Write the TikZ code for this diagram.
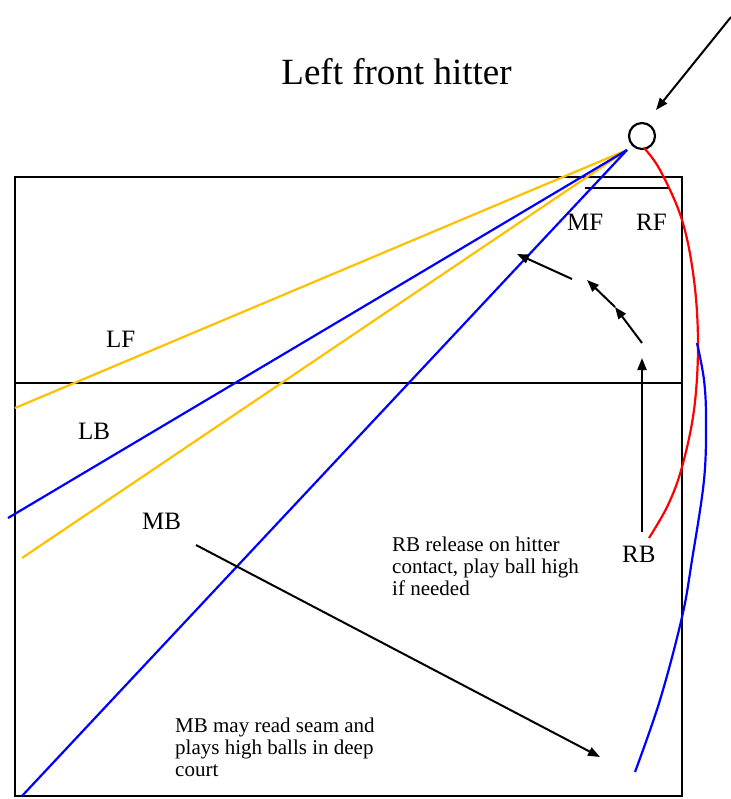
\documentclass[tikz,border=0pt]{standalone}
\usepackage{fontspec}
\setmainfont{Liberation Serif}
\usetikzlibrary{arrows.meta}
\definecolor{gold}{HTML}{FFC000}
\definecolor{pblue}{HTML}{0000FF}
\definecolor{pred}{HTML}{FF0000}
\begin{document}
\begin{tikzpicture}[x=1pt,y=-1pt,
  court/.style={draw=black, line width=2.2pt},
  zone/.style={line width=2.2pt},
  move/.style={draw=black, line width=2pt, -{Triangle[length=12pt,width=9pt]}},
  lbl/.style={font=\fontsize{25}{30}\selectfont, inner sep=0pt, anchor=base west},
  note/.style={font=\fontsize{21}{22}\selectfont, inner sep=0pt, anchor=north west, align=left},
]
\useasboundingbox (0,0) rectangle (730,799);
% court
\draw[court] (15,177) rectangle (682,796);
\coordinate (netL) at (15,383);
\coordinate (netR) at (682,383);
\draw[court] (netL) -- (netR);
\coordinate (tL) at (585,188);
\coordinate (tR) at (668,188);
\draw[court] (tL) -- (tR);
% title
\node[font=\fontsize{37}{44}\selectfont, inner sep=0pt, anchor=base] (title) at (396.5,85) {Left front hitter};
% ball and incoming arrow
\node[draw=black, line width=2.2pt, circle, minimum size=26pt, inner sep=0pt] (ball) at (642,136) {};
\coordinate (src) at (731,17);
\coordinate (btip) at (656,110);
\draw[move] (src) -- (btip);
% hitter point
\coordinate (h) at (627,150);
\coordinate (y1) at (15,408);
\coordinate (y2) at (22,558);
\coordinate (b1) at (8,518);
\coordinate (b2) at (22,796);
\draw[zone, gold] (h) -- (y1);
\draw[zone, gold] (h) -- (y2);
\draw[zone, pblue] (h) -- (b1);
\draw[zone, pblue] (h) -- (b2);
% red curve
\draw[zone, pred] plot[smooth, tension=0.6] coordinates {(644,148) (660,170) (682,220) (694,280) (698,345) (694,410) (682,467) (668,505) (649,538)};
% right blue curve
\draw[zone, pblue] plot[smooth, tension=0.6] coordinates {(697,343) (704,380) (706,420) (704,480) (692,560) (682,617) (660,700) (635,772)};
% labels
\node[lbl] (MF) at (567,231) {MF};
\node[lbl] (RF) at (636,231) {RF};
\node[lbl] (LF) at (106,347) {LF};
\node[lbl] (LB) at (78,439) {LB};
\node[lbl] (MB) at (142,529) {MB};
\node[lbl] (RB) at (622,562) {RB};
% RB movement arrows
\coordinate (r0) at (642,532);
\coordinate (r1) at (642,358);
\coordinate (r2) at (642,343);
\coordinate (r3) at (615,307);
\coordinate (r4) at (587,280);
\coordinate (r5) at (572,279);
\coordinate (r6) at (517,254);
\draw[move] (r0) -- (r1);
\draw[move] (r2) -- (r3);
\draw[move] (r3) -- (r4);
\draw[move] (r5) -- (r6);
% MB movement
\coordinate (m0) at (196,545);
\coordinate (m1) at (600,757);
\draw[move] (m0) -- (m1);
% notes
\node[note] (rbnote) at (392,536.5) {RB release on hitter\\contact, play ball high\\if needed};
\node[note] (mbnote) at (175,717.5) {MB may read seam and\\plays high balls in deep\\court};
\end{tikzpicture}
\end{document}
